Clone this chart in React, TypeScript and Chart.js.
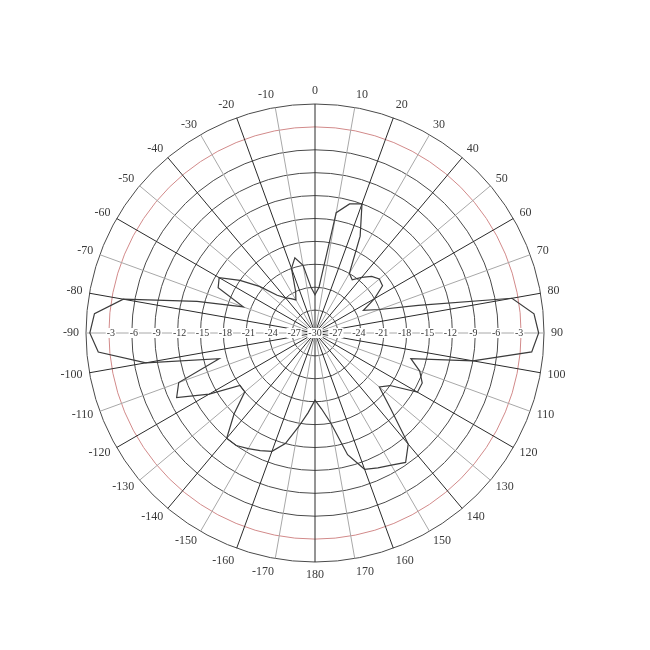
import React, { useEffect, useRef } from "react";
import { Chart, registerables } from "chart.js";

Chart.register(...registerables);

// Azimuth (degrees, clockwise from top) every 5 degrees
const azimuths: number[] = [
  0, 5, 10, 15, 20, 25, 30, 35, 40, 45, 50, 55, 60, 65, 70, 75, 80, 85,
  90, 95, 100, 105, 110, 115, 120, 125, 130, 135, 140, 145, 150, 155, 160, 165, 170, 175,
  180, 185, 190, 195, 200, 205, 210, 215, 220, 225, 230, 235, 240, 245, 250, 255, 260, 265,
  270, 275, 280, 285, 290, 295, 300, 305, 310, 315, 320, 325, 330, 335, 340, 345, 350, 355,
];

// Relative gain in dB at each azimuth
const gainDb: number[] = [
  -25, -24, -14, -12.5, -12, -16, -21, -21.5, -20.5, -19.5, -19, -19.2, -21, -23, -21, -16, -3.8, -1.2,
  -0.7, -1.5, -9, -17, -15.4, -14.5, -14.5, -18, -19, -16, -11, -9.3, -10, -10.5, -11, -13.5, -18, -20,
  -21.2, -19.5, -17.5, -15, -13.5, -13, -12.5, -12, -12, -15, -18, -18, -14, -10, -11, -17, -7.5, -1.5,
  -0.5, -1, -4.5, -14, -20, -16, -15.5, -18, -20.5, -23, -24, -24.5, -25, -24, -21, -19.8, -21, -24,
];

// Radial tick labels (dB)
const dbTicks: number[] = [-3, -6, -9, -12, -15, -18, -21, -24, -27, -30];

const angleLabel = (a: number) => (a <= 180 ? String(a) : String(a - 360));

const labelsPlugin = {
  id: "polarLabels",
  afterDraw(chart: any) {
    const scale = chart.scales.r;
    const ctx = chart.ctx;
    ctx.save();
    // angle labels
    ctx.font = "12px 'Liberation Serif', serif";
    ctx.fillStyle = "#3a3a3a";
    azimuths.forEach((a, i) => {
      if (a % 10 !== 0) return;
      const pos = scale.getPointPosition(i, scale.drawingArea + 7);
      const rad = (a * Math.PI) / 180;
      const s = Math.sin(rad);
      const c = Math.cos(rad);
      ctx.textAlign = s > 0.08 ? "left" : s < -0.08 ? "right" : "center";
      ctx.textBaseline = c > 0.9 ? "bottom" : c < -0.9 ? "top" : "middle";
      const dy = c > 0.9 || c < -0.9 ? 0 : -c * 4;
      ctx.fillText(angleLabel(a), pos.x, pos.y + dy);
    });
    // dB labels along the horizontal axis
    ctx.font = "10px 'Liberation Serif', serif";
    ctx.textAlign = "center";
    ctx.textBaseline = "middle";
    dbTicks.forEach((v) => {
      const d = scale.getDistanceFromCenterForValue(v);
      const xs = v === -30 ? [scale.xCenter] : [scale.xCenter - d + 2, scale.xCenter + d - 2];
      xs.forEach((x) => {
        const t = String(v);
        const w = ctx.measureText(t).width;
        ctx.fillStyle = "#ffffff";
        ctx.fillRect(x - w / 2 - 1, scale.yCenter - 5, w + 2, 10);
        ctx.fillStyle = "#3a3a3a";
        ctx.fillText(t, x, scale.yCenter + 0.5);
      });
    });
    ctx.restore();
  },
};

export default function App() {
  const ref = useRef<HTMLCanvasElement | null>(null);
  useEffect(() => {
    if (!ref.current) return;
    const chart = new Chart(ref.current, {
      type: "radar",
      data: {
        labels: azimuths.map(angleLabel),
        datasets: [
          {
            data: gainDb,
            borderColor: "#3c3c3c",
            borderWidth: 1.2,
            pointRadius: 0,
            fill: false,
            tension: 0,
          },
        ],
      },
      options: {
        animation: false,
        responsive: true,
        maintainAspectRatio: false,
        layout: { padding: { left: 78, right: 98, top: 96, bottom: 80 } },
        plugins: { legend: { display: false }, tooltip: { enabled: false } },
        scales: {
          r: {
            min: -30,
            max: 0,
            ticks: { display: false, stepSize: 3 },
            pointLabels: { display: false },
            grid: {
              circular: true,
              color: (c: any) => (c.tick && c.tick.value === -3 ? "#d28a8a" : "#4a4a4a"),
              lineWidth: 1,
            },
            angleLines: {
              display: true,
              color: (c: any) => (c.index % 4 === 0 ? "#2a2a2a" : "#a8a8a8"),
              lineWidth: (c: any) => (c.index % 2 === 0 ? 1 : 0),
            },
          },
        },
      },
      plugins: [labelsPlugin],
    });
    return () => chart.destroy();
  }, []);
  return (
    <div style={{ width: 634, height: 634, position: "relative" }}>
      <canvas ref={ref} />
    </div>
  );
}
